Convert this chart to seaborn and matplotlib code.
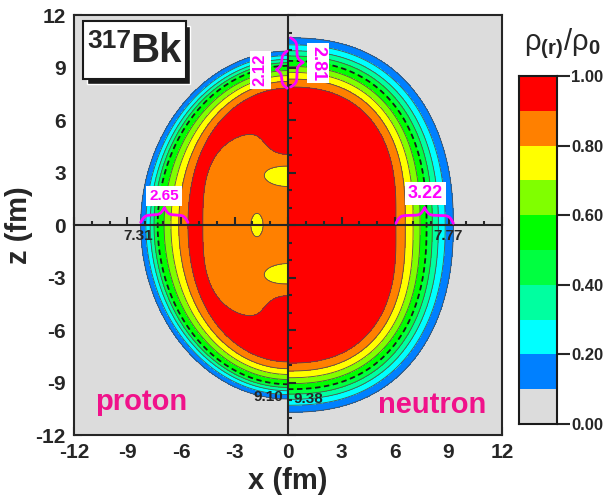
import matplotlib
matplotlib.use("Agg")
import matplotlib.pyplot as plt
import numpy as np
import seaborn as sns
from matplotlib.colors import ListedColormap, BoundaryNorm
from matplotlib.patches import Rectangle
from matplotlib.ticker import MultipleLocator

# density bands rho/rho0
levels = np.round(np.arange(0.0, 1.01, 0.1), 2)
band_colors = ["#dcdcdc", "#0080ff", "#00ffff", "#00ffa0", "#00ff40",
               "#00ff00", "#80ff00", "#ffff00", "#ff8000", "#ff0000"]

# half-density radii (fm): [equator, pole]
proton_r_half = [7.31, 9.10]
neutron_r_half = [7.77, 9.38]
# 10 % density radii (fm): [equator, pole]
proton_r_out = [8.26, 9.94]
neutron_r_out = [9.27, 10.70]
# 10-90 % surface thickness (fm): [equator, pole]
proton_skin = [2.65, 2.12]
neutron_skin = [3.22, 2.81]
# superellipse exponent of the half-density surface
proton_shape = 2.0
neutron_shape = 2.4

# central depression of the proton density
dip_depth = 0.15
dip_size = [5.28, 6.0]
notch_depth = 0.12
notch_z = 5.0
notch_w = [1.2, 1.1]
spot_depth = 0.10
spot_x = [-1.74, 0.0, 0.0]
spot_z = [0.0, 2.85, -2.85]
spot_wx = [0.41, 1.62, 1.62]
spot_wz = [0.80, 0.78, 0.78]

LN9 = np.log(9.0)


def surface_density(x, z, r_half, r_out, skin, shape):
    """Radial profile passing 0.9 / 0.5 / 0.1 at the read radii."""
    r = np.hypot(x, z)
    phi = np.arctan2(np.abs(z), np.abs(x))
    c, s = np.cos(phi), np.sin(phi)
    R = 1.0 / ((c / r_half[0]) ** shape + (s / r_half[1]) ** shape) ** (1.0 / shape)
    w = s ** 2
    out_eq = r_out[0] - r_half[0]
    out_po = r_out[1] - r_half[1]
    d_out = (1 - w) * out_eq + w * out_po
    d_in = (1 - w) * (skin[0] - out_eq) + w * (skin[1] - out_po)
    d = np.where(r > R, d_out, d_in)
    linear = np.clip(0.5 - 0.4 * (r - R) / d, 0.0, 1.0)
    fermi = 1.0 / (1.0 + np.exp((r - R) * LN9 / d))
    return np.clip(0.5 * (linear + fermi), 0.0, 0.9999)


def proton_density(x, z):
    F = surface_density(x, z, proton_r_half, proton_r_out, proton_skin, proton_shape)
    q = (np.abs(x) / dip_size[0]) ** 3 + (np.abs(z) / dip_size[1]) ** 3
    D = dip_depth * np.exp(-q ** 3)
    D -= notch_depth * np.exp(-(x / notch_w[0]) ** 2
                              - ((np.abs(z) - notch_z) / notch_w[1]) ** 2)
    for cx, cz, wx, wz in zip(spot_x, spot_z, spot_wx, spot_wz):
        D += spot_depth * np.exp(-((x - cx) / wx) ** 2 - ((z - cz) / wz) ** 2)
    return np.minimum(F, 1.0 - D)


def brace(ax, start, stop, base, height, vertical=False, sign=1, beta=9.0):
    t = np.linspace(start, stop, 401)
    half = t[:201]
    v = (1 / (1 + np.exp(-beta * (half - half[0])))
         + 1 / (1 + np.exp(-beta * (half - half[-1]))))
    v = np.concatenate((v, v[-2::-1]))
    off = base + sign * (v - 0.5) * height
    if vertical:
        ax.plot(off, t, color="#ff00ff", lw=2.0, zorder=6, solid_capstyle="round")
    else:
        ax.plot(t, off, color="#ff00ff", lw=2.0, zorder=6, solid_capstyle="round")


sns.set_theme(style="ticks")
plt.rcParams["font.family"] = ["Liberation Sans", "DejaVu Sans"]
plt.rcParams["font.weight"] = "bold"
plt.rcParams["axes.unicode_minus"] = False
plt.rcParams["mathtext.fontset"] = "custom"
plt.rcParams["mathtext.rm"] = "Liberation Sans"
plt.rcParams["mathtext.bf"] = "Liberation Sans:bold"
plt.rcParams["axes.linewidth"] = 1.5

cmap = ListedColormap(band_colors)
norm = BoundaryNorm(levels, cmap.N)

fig = plt.figure(figsize=(6.08, 4.97), dpi=100)
rect = [0.1217, 0.1247, 0.704, 0.845]
ax = fig.add_axes(rect)

zz = np.linspace(-12, 12, 961)
xp = np.linspace(-12, 0, 481)
xn = np.linspace(0, 12, 481)
XP, ZP = np.meshgrid(xp, zz)
XN, ZN = np.meshgrid(xn, zz)
rho_p = proton_density(XP, ZP)
rho_n = surface_density(XN, ZN, neutron_r_half, neutron_r_out, neutron_skin,
                        neutron_shape)

line_levels = [v for v in levels[1:-1] if abs(v - 0.5) > 1e-6]
for X, Z, rho in ((XP, ZP, rho_p), (XN, ZN, rho_n)):
    ax.contourf(X, Z, rho, levels=levels, cmap=cmap, norm=norm)
    ax.contour(X, Z, rho, levels=line_levels, colors="#505050", linewidths=0.6)
    ax.contour(X, Z, rho, levels=[0.5], colors="k", linewidths=1.3,
               linestyles=[(0, (3, 2))])

ax.set_xlim(-12, 12)
ax.set_ylim(-12, 12)
ax.xaxis.set_major_locator(MultipleLocator(3))
ax.yaxis.set_major_locator(MultipleLocator(3))
ax.xaxis.set_minor_locator(MultipleLocator(1))
ax.yaxis.set_minor_locator(MultipleLocator(1))
ax.tick_params(which="both", direction="in", top=False, right=False, width=1.5)
ax.tick_params(which="major", length=6, labelsize=15, pad=6)
ax.tick_params(which="minor", length=3)
ax.set_xlabel("x (fm)", fontsize=21, fontweight="bold", labelpad=3)
ax.set_ylabel("z (fm)", fontsize=21, fontweight="bold", labelpad=2)
for sp in ax.spines.values():
    sp.set_linewidth(1.5)

# centre cross with ticks
ax2 = fig.add_axes(rect, label="centre")
ax2.patch.set_visible(False)
ax2.set_xlim(-12, 12)
ax2.set_ylim(-12, 12)
ax2.spines[["top", "right"]].set_visible(False)
ax2.spines["left"].set_position(("data", 0))
ax2.spines["bottom"].set_position(("data", 0))
ax2.xaxis.set_major_locator(MultipleLocator(3))
ax2.yaxis.set_major_locator(MultipleLocator(3))
ax2.xaxis.set_minor_locator(MultipleLocator(1))
ax2.yaxis.set_minor_locator(MultipleLocator(1))
ax2.tick_params(which="both", direction="in", labelleft=False, labelbottom=False,
                width=1.5)
ax2.tick_params(which="major", length=6)
ax2.tick_params(which="minor", length=3)

# nucleus label box
ax2.add_patch(Rectangle((-11.25, 8.06), 5.78, 3.32, facecolor="k", zorder=7))
ax2.add_patch(Rectangle((-11.5, 8.34), 5.78, 3.32, facecolor="white",
                        edgecolor="k", lw=1.5, zorder=8))
ax2.text(-11.25, 10.5, "317", fontsize=19, ha="left", va="center", zorder=9)
ax2.text(-8.85, 9.97, "Bk", fontsize=29, ha="left", va="center", zorder=9)

# skin braces
brace(ax2, -proton_r_out[0], -proton_r_out[0] + proton_skin[0], 0.15, 0.85)
brace(ax2, neutron_r_out[0] - neutron_skin[0], neutron_r_out[0], 0.1, 0.9)
brace(ax2, proton_r_out[1] - proton_skin[1], proton_r_out[1], -0.05, 0.6,
      vertical=True, sign=-1)
brace(ax2, neutron_r_out[1] - neutron_skin[1], neutron_r_out[1], 0.15, 0.7,
      vertical=True, sign=1)

box = dict(facecolor="white", edgecolor="none", pad=2.0)
ax2.text(-6.95, 1.65, f"{proton_skin[0]:.2f}", color="#ff00ff", fontsize=11,
         ha="center", va="center", bbox=box, zorder=9)
ax2.text(7.7, 1.8, f"{neutron_skin[0]:.2f}", color="#ff00ff", fontsize=13,
         ha="center", va="center", bbox=box, zorder=9)
ax2.text(-1.55, 8.85, f"{proton_skin[1]:.2f}", color="#ff00ff", fontsize=12,
         ha="center", va="center", rotation=90, bbox=box, zorder=9)
ax2.text(1.68, 9.25, f"{neutron_skin[1]:.2f}", color="#ff00ff", fontsize=13,
         ha="center", va="center", rotation=-90, bbox=box, zorder=9)

# half-density radii
ax2.text(-8.4, -0.6, f"{proton_r_half[0]:.2f}", fontsize=11, ha="center",
         va="center", zorder=9)
ax2.text(9.0, -0.6, f"{neutron_r_half[0]:.2f}", fontsize=11, ha="center",
         va="center", zorder=9)
ax2.text(-1.1, -9.85, f"{proton_r_half[1]:.2f}", fontsize=11, ha="center",
         va="center", zorder=9)
ax2.text(1.15, -9.95, f"{neutron_r_half[1]:.2f}", fontsize=11, ha="center",
         va="center", zorder=9)

ax2.text(-8.25, -10.1, "proton", color="#f0128a", fontsize=21, ha="center",
         va="center", zorder=9)
ax2.text(8.1, -10.3, "neutron", color="#f0128a", fontsize=21, ha="center",
         va="center", zorder=9)

# colour scale drawn as a seaborn heatmap
cax = fig.add_axes([0.8536, 0.1469, 0.0625, 0.700])
band_mid = (levels[:-1] + levels[1:]) / 2
sns.heatmap(band_mid[::-1].reshape(-1, 1), ax=cax, cmap=cmap, norm=norm,
            cbar=False, xticklabels=False, yticklabels=False, linewidths=0)
cax.set_yticks(np.arange(0, 11, 2))
cax.set_yticklabels([f"{v:.2f}" for v in levels[::-1][::2]])
cax.yaxis.tick_right()
cax.tick_params(axis="y", direction="out", length=9, width=1.5, labelsize=12,
                pad=1, right=True, left=False)
cax.tick_params(axis="x", bottom=False)
for sp in cax.spines.values():
    sp.set_visible(True)
    sp.set_linewidth(1.5)
    sp.set_color("k")

fig.text(0.925, 0.913, r"ρ$_{\mathbf{(r)}}$/ρ$_{\mathbf{0}}$", fontsize=21,
         fontweight="normal", ha="center", va="center")

fig.savefig("out.png", dpi=100)
